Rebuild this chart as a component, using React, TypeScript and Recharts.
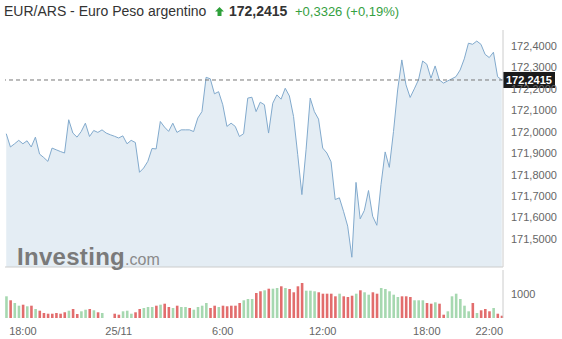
import React from 'react';
import { AreaChart, Area, XAxis, YAxis, ReferenceLine, BarChart, Bar, Cell } from 'recharts';

const price = [
  171.991, 171.929, 171.944, 171.960, 171.944, 171.958, 171.929, 171.975, 171.896, 171.880,
  171.862, 171.924, 171.916, 171.908, 171.901, 172.056, 171.994, 171.975, 172.001, 172.040,
  171.978, 172.006, 171.997, 172.009, 171.994, 171.986, 171.979, 171.971, 171.981, 171.944,
  171.960, 171.950, 171.811, 171.831, 171.862, 171.922, 171.920, 172.048, 172.022, 172.002,
  172.040, 171.997, 172.009, 172.009, 172.009, 172.001, 172.064, 172.094, 172.254, 172.247,
  172.177, 172.187, 172.126, 172.025, 172.040, 172.025, 171.978, 171.991, 172.157, 172.161,
  172.094, 172.138, 172.126, 171.994, 172.133, 172.172, 172.152, 172.203, 172.167, 172.071,
  171.893, 171.707, 171.916, 172.157, 172.094, 172.059, 171.924, 171.901, 171.860, 171.684,
  171.692, 171.629, 171.560, 171.415, 171.764, 171.594, 171.633, 171.726, 171.606, 171.564,
  171.754, 171.906, 171.834, 172.001, 172.195, 172.335, 172.219, 172.160, 172.200, 172.242,
  172.330, 172.315, 172.250, 172.307, 172.242, 172.227, 172.237, 172.247, 172.257, 172.288,
  172.340, 172.413, 172.408, 172.423, 172.408, 172.361, 172.346, 172.371, 172.257, 172.2415,
];

const volume = [
  904, 738, 625, 513, 554, 488, 513, 375, 304, 208,
  179, 179, 208, 179, 238, 304, 375, 167, 279, 346,
  375, 321, 238, 208, 0, 0, 179, 138, 279, 304,
  179, 238, 375, 417, 458, 458, 513, 554, 596, 458,
  417, 513, 458, 458, 417, 346, 458, 513, 625, 417,
  513, 458, 513, 488, 513, 513, 625, 738, 792, 792,
  1042, 1113, 1154, 1221, 1221, 1250, 1321, 1250, 1208, 1071,
  1321, 1458, 1138, 1138, 1113, 1071, 1013, 1013, 1013, 904,
  1013, 904, 875, 929, 1013, 1154, 1071, 971, 1071, 1013,
  1250, 1208, 1113, 971, 875, 904, 904, 875, 738, 738,
  738, 625, 596, 654, 596, 138, 279, 904, 1013, 792,
  513, 279, 625, 208, 321, 375, 279, 417, 179, 96,
];

const volumeDir = [
  'u', 'd', 'u', 'u', 'd', 'u', 'd', 'u', 'd', 'd',
  'd', 'd', 'd', 'd', 'd', 'u', 'd', 'd', 'u', 'u',
  'd', 'u', 'd', 'u', 'u', 'u', 'd', 'd', 'u', 'u',
  'u', 'd', 'd', 'u', 'u', 'u', 'd', 'u', 'd', 'd',
  'u', 'd', 'u', 'u', 'd', 'u', 'u', 'u', 'u', 'd',
  'd', 'u', 'd', 'd', 'd', 'd', 'd', 'u', 'u', 'u',
  'd', 'd', 'u', 'd', 'u', 'u', 'd', 'u', 'd', 'd',
  'd', 'd', 'u', 'u', 'u', 'd', 'd', 'd', 'd', 'd',
  'u', 'd', 'd', 'd', 'u', 'd', 'u', 'u', 'd', 'd',
  'u', 'u', 'u', 'u', 'u', 'd', 'd', 'd', 'u', 'u',
  'u', 'd', 'd', 'u', 'd', 'd', 'u', 'u', 'u', 'u',
  'u', 'u', 'd', 'u', 'd', 'd', 'd', 'u', 'd', 'd',
];

const xTickIndex = [4, 27, 52, 76, 101, 116];
const xTickLabels = ['18:00', '25/11', '6:00', '12:00', '18:00', '22:00'];
const yTicks = [171.5, 171.6, 171.7, 171.8, 171.9, 172.0, 172.1, 172.2, 172.3, 172.4];
const volTicks = [1000];
const lastPrice = 172.2415;
const titleText = 'EUR/ARS - Euro Peso argentino';
const changeText = '+0,3326 (+0,19%)';

const priceData = price.map((p, i) => ({ i, p }));
const volData = volume.map((v, i) => ({ i, v, d: volumeDir[i] }));

const fmt4 = (v: number) => v.toFixed(4).replace('.', ',');
const font = 'Arial, "Liberation Sans", sans-serif';
const axisTick = { fill: '#666', fontSize: 11, fontFamily: font };

const PriceTag = (props: any) => {
  const vb = props.viewBox || {};
  const x = (vb.x || 0) + (vb.width || 0);
  const y = vb.y || 0;
  return (
    <g>
      <rect x={x} y={y - 8} width={52} height={16} fill="#1a1a1a" />
      <text x={x + 3} y={y + 4} fill="#fff" fontSize={11} fontWeight="bold" fontFamily={font}>
        {fmt4(lastPrice)}
      </text>
    </g>
  );
};

export default function App() {
  return (
    <div style={{ position: 'fixed', left: 0, top: 0, width: 562, height: 339, background: '#fff', overflow: 'hidden', fontFamily: font }}>
      <div style={{ position: 'absolute', left: 0, top: 0 }}>
        <AreaChart width={562} height={268} data={priceData} margin={{ top: 30, right: 0, left: 5, bottom: 0 }}>
          <XAxis dataKey="i" type="number" domain={[-0.3, 119.3]} allowDataOverflow height={1} tick={false} tickLine={false} axisLine={{ stroke: '#ccc' }} />
          <YAxis
            orientation="right"
            width={59}
            domain={[171.3694, 172.4746]}
            allowDataOverflow
            ticks={yTicks}
            tickFormatter={fmt4}
            axisLine={{ stroke: '#ccc' }}
            tickLine={false}
            tickSize={6}
            tickMargin={2}
            tick={axisTick}
            interval={0}
          />
          <Area type="linear" dataKey="p" stroke="#82aacd" strokeWidth={1} fill="#e4edf4" fillOpacity={1} isAnimationActive={false} dot={false} activeDot={false} />
          <ReferenceLine y={lastPrice} stroke="#777" strokeDasharray="4 3" label={<PriceTag />} />
        </AreaChart>
      </div>
      <div style={{ position: 'absolute', left: 0, top: 0 }}>
        <BarChart width={562} height={339} data={volData} margin={{ top: 270, right: 0, left: 5, bottom: 0 }} barSize={2.6}>
          <XAxis
            dataKey="i"
            type="number"
            domain={[-0.3, 119.3]}
            allowDataOverflow
            ticks={xTickIndex}
            tickFormatter={(v: number) => xTickLabels[xTickIndex.indexOf(v)]}
            height={21}
            axisLine={false}
            tickLine={false}
            tickSize={6}
            tickMargin={3}
            tick={axisTick}
            interval={0}
          />
          <YAxis
            orientation="right"
            width={59}
            domain={[0, 2000]}
            ticks={volTicks}
            axisLine={{ stroke: '#ccc' }}
            tickLine={false}
            tickSize={6}
            tickMargin={2}
            tick={axisTick}
          />
          <Bar dataKey="v" isAnimationActive={false}>
            {volData.map((e, k) => (
              <Cell key={k} fill={e.d === 'u' ? '#a6d8b0' : '#e26d6d'} />
            ))}
          </Bar>
        </BarChart>
      </div>
      <div style={{ position: 'absolute', left: 4, top: 3, fontSize: 14, color: '#333', whiteSpace: 'nowrap', lineHeight: '16px' }}>
        {titleText}
      </div>
      <svg style={{ position: 'absolute', left: 215, top: 7 }} width={9} height={9} viewBox="0 0 9 9">
        <polygon points="4.5,0 9,4.5 6.5,4.5 6.5,9 2.5,9 2.5,4.5 0,4.5" fill="#2ea03a" />
      </svg>
      <div style={{ position: 'absolute', left: 229, top: 3, fontSize: 14, fontWeight: 'bold', color: '#333', whiteSpace: 'nowrap', lineHeight: '16px' }}>
        {fmt4(lastPrice)}
      </div>
      <div style={{ position: 'absolute', left: 295, top: 4, fontSize: 13, color: '#35a03f', whiteSpace: 'nowrap', lineHeight: '15px' }}>
        {changeText}
      </div>
      <div style={{ position: 'absolute', left: 17, top: 244, whiteSpace: 'nowrap', lineHeight: '26px', color: '#7a7a7a' }}>
        <span style={{ fontSize: 24, fontWeight: 'bold', letterSpacing: 0.3 }}>Investing</span>
        <span style={{ fontSize: 16, color: '#8a8a8a' }}>.com</span>
      </div>
    </div>
  );
}
